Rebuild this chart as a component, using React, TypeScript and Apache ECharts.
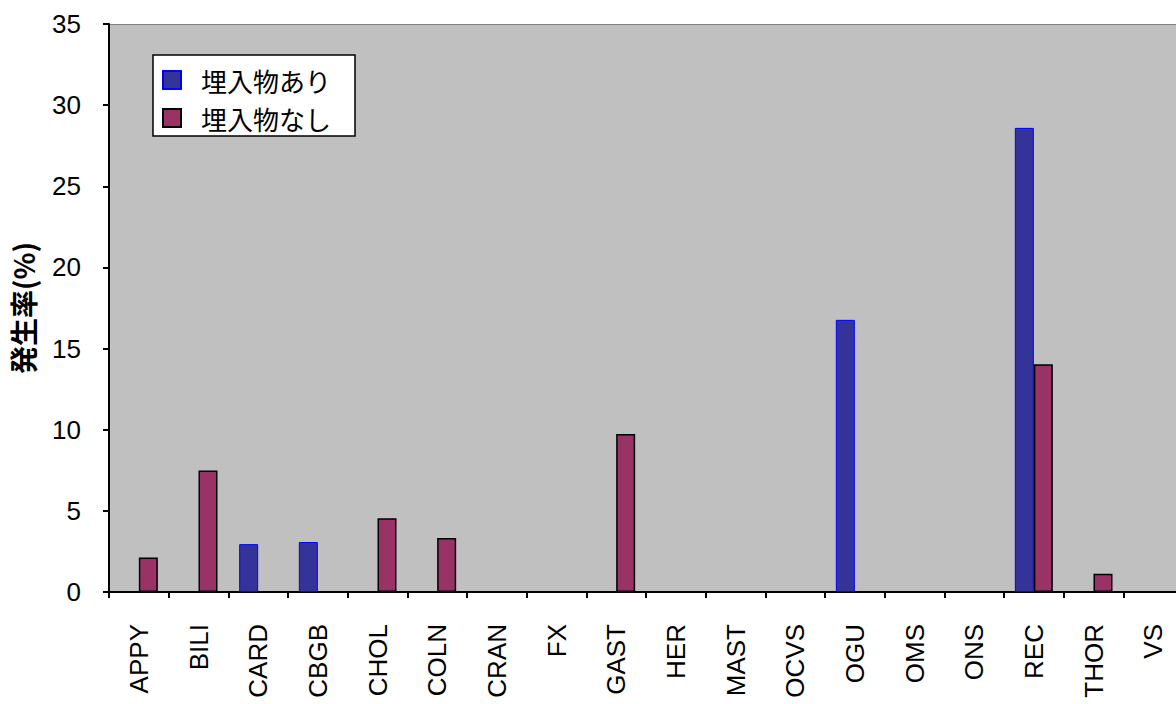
import React, { useEffect, useRef } from "react";
import * as echarts from "echarts";

const categories = ["APPY", "BILI", "CARD", "CBGB", "CHOL", "COLN", "CRAN", "FX", "GAST", "HER", "MAST", "OCVS", "OGU", "OMS", "ONS", "REC", "THOR", "VS"];
const withImplant = [0, 0, 2.95, 3.08, 0, 0, 0, 0, 0, 0, 0, 0, 16.77, 0, 0, 28.6, 0, 0];
const withoutImplant = [2.13, 7.49, 0, 0, 4.55, 3.32, 0, 0, 9.73, 0, 0, 0, 0, 0, 0, 14.04, 1.13, 0];
const seriesNames = ["埋入物あり", "埋入物なし"];
const yTicks = { min: 0, max: 35, interval: 5 };
const yName = "発生率(%)";

const FONT = "'Liberation Sans', Arial, sans-serif";
const GRID = { left: 109, top: 24, right: 17, bottom: 112 };
const W = 1200;
const H = 704;

export default function App() {
  const ref = useRef<HTMLDivElement>(null);
  useEffect(() => {
    if (!ref.current) return;
    const chart = echarts.init(ref.current, undefined, { renderer: "svg" });
    const toData = (arr: number[]) => arr.map((v) => (v === 0 ? "-" : v));
    chart.setOption({
      animation: false,
      backgroundColor: "#ffffff",
      graphic: {
        z: -10,
        elements: [
          {
            type: "rect",
            left: GRID.left,
            top: GRID.top,
            z: -10,
            silent: true,
            shape: { width: W - GRID.left - GRID.right, height: H - GRID.top - GRID.bottom },
            style: { fill: "#C0C0C0", stroke: "#808080", lineWidth: 1 },
          },
        ],
      },
      grid: {
        left: GRID.left,
        top: GRID.top,
        right: GRID.right,
        bottom: GRID.bottom,
        containLabel: false,
        outerBoundsMode: "none",
        show: false,
      },
      legend: {
        left: 153,
        top: 55,
        orient: "vertical",
        backgroundColor: "#ffffff",
        borderColor: "#000000",
        borderWidth: 1.5,
        borderRadius: 0,
        padding: [12, 24, 5, 9],
        itemGap: 12,
        itemWidth: 18,
        itemHeight: 18,
        icon: "rect",
        textStyle: {
          fontFamily: "'Noto Sans CJK JP', sans-serif",
          fontSize: 26,
          color: "#000",
          padding: [0, 0, 0, 15],
        },
        data: seriesNames,
      },
      xAxis: {
        type: "category",
        data: categories,
        axisLine: { show: true, lineStyle: { color: "#000", width: 2 } },
        axisTick: { show: true, length: 6, interval: 0, lineStyle: { color: "#000", width: 2 } },
        axisLabel: {
          rotate: 90,
          margin: 32,
          fontFamily: FONT,
          fontSize: 26,
          color: "#000",
          interval: 0,
        },
      },
      yAxis: {
        type: "value",
        min: yTicks.min,
        max: yTicks.max,
        interval: yTicks.interval,
        name: yName,
        nameLocation: "middle",
        nameRotate: 90,
        nameGap: 72,
        nameTextStyle: {
          fontFamily: "'Noto Sans CJK JP', sans-serif",
          fontSize: 28,
          fontWeight: "bold",
          color: "#000",
        },
        splitLine: { show: false },
        axisLine: { show: true, lineStyle: { color: "#000", width: 2 } },
        axisTick: { show: true, length: 6, lineStyle: { color: "#000", width: 2 } },
        axisLabel: { margin: 28, fontFamily: FONT, fontSize: 26, color: "#000" },
      },
      series: [
        {
          name: seriesNames[0],
          type: "bar",
          data: toData(withImplant),
          barWidth: 19,
          barGap: "0%",
          itemStyle: { color: "#333399", borderColor: "#0000FF", borderWidth: 1 },
        },
        {
          name: seriesNames[1],
          type: "bar",
          data: toData(withoutImplant),
          barWidth: 19,
          barGap: "0%",
          itemStyle: { color: "#993366", borderColor: "#000000", borderWidth: 1.5 },
        },
      ],
    });
    return () => chart.dispose();
  }, []);
  return (
    <div
      ref={ref}
      style={{ position: "fixed", left: 0, top: 0, width: W, height: H }}
    />
  );
}
